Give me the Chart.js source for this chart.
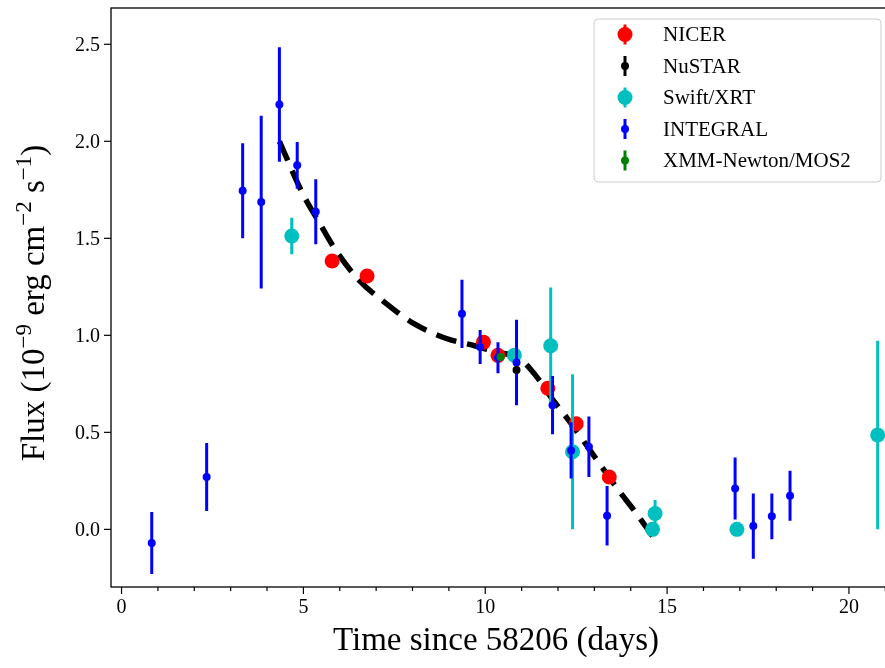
<!DOCTYPE html>
<html><head><meta charset="utf-8">
<script src="https://cdn.jsdelivr.net/npm/chart.js@4.4.0/dist/chart.umd.min.js"></script>
<style>html,body{margin:0;padding:0;overflow:hidden;background:#fff;width:885px;height:668px}#wrap{width:895px;height:668px}</style>
</head><body><div id="wrap"><canvas id="c" width="895" height="668"></canvas></div>
<script>
// ---- data ----
const nicerT = [5.79, 6.75, 9.95, 10.35, 11.72, 12.50, 13.41];
const nicerF = [1.383, 1.306, 0.965, 0.897, 0.727, 0.544, 0.270];
const nicerE = [0.015, 0.015, 0.015, 0.015, 0.015, 0.015, 0.015];

const nustarT = [10.86];
const nustarF = [0.822];
const nustarE = [0.02];

const swiftT = [4.68, 10.80, 11.80, 12.40, 14.67, 14.60, 16.92, 20.79];
const swiftF = [1.512, 0.898, 0.946, 0.400, 0.082, 0.000, 0.000, 0.486];
const swiftE = [0.094, 0.03, 0.30, 0.40, 0.07, 0.0, 0.0, 0.486];

const integralT = [0.83, 2.34, 3.33, 3.84, 4.34, 4.83, 5.34, 9.36, 9.86, 10.35, 10.86, 11.85, 12.36, 12.85, 13.35, 16.87, 17.37, 17.88, 18.38];
const integralF = [-0.07, 0.27, 1.745, 1.687, 2.19, 1.876, 1.637, 1.111, 0.94, 0.885, 0.86, 0.64, 0.407, 0.426, 0.07, 0.211, 0.017, 0.067, 0.173];
const integralE = [0.16, 0.175, 0.245, 0.445, 0.295, 0.12, 0.167, 0.176, 0.088, 0.08, 0.22, 0.15, 0.145, 0.156, 0.153, 0.16, 0.168, 0.118, 0.129];

const xmmT = [10.42];
const xmmF = [0.888];
const xmmE = [0.015];

const fitT = [4.34, 4.98, 5.44, 5.85, 6.50, 7.27, 8.04, 8.91, 9.73, 10.28, 10.95, 11.38, 11.83, 12.29, 12.75, 13.20, 13.66, 14.12, 14.62];
const fitF = [2.00, 1.73, 1.58, 1.45, 1.29, 1.165, 1.06, 0.985, 0.945, 0.915, 0.88, 0.795, 0.675, 0.563, 0.443, 0.323, 0.203, 0.091, -0.04];

const xTicks = [0, 5, 10, 15, 20];
const xMinorStep = 1;
const yTicks = [0.0, 0.5, 1.0, 1.5, 2.0, 2.5];
const xLabel = 'Time since 58206 (days)';
const yLabelParts = [['Flux (10', false], ['\u22129', true], [' erg cm', false], ['\u22122', true], [' s', false], ['\u22121', true], [')', false]];

// ---- chart ----
const FONT = "'Liberation Serif', 'Times New Roman', serif";
const pts = (T, F) => T.map((t, i) => ({x: t, y: F[i]}));

const series = [
  {label: 'NICER', T: nicerT, F: nicerF, E: nicerE, color: '#ff0000', r: 7.5, order: 5},
  {label: 'NuSTAR', T: nustarT, F: nustarF, E: nustarE, color: '#000000', r: 4, order: 2},
  {label: 'Swift/XRT', T: swiftT, F: swiftF, E: swiftE, color: '#00bfbf', r: 7.5, order: 4},
  {label: 'INTEGRAL', T: integralT, F: integralF, E: integralE, color: '#0000ff', r: 4, order: 3},
  {label: 'XMM-Newton/MOS2', T: xmmT, F: xmmF, E: xmmE, color: '#008000', r: 4, order: 1}
];

const datasets = [{
  type: 'line', label: 'fit', data: pts(fitT, fitF), borderColor: '#000', borderWidth: 5.5,
  borderDash: [21, 11], pointRadius: 0, fill: false, cubicInterpolationMode: 'monotone', order: 10
}].concat(series.map(s => ({
  type: 'scatter', label: s.label, data: pts(s.T, s.F), errs: s.E,
  backgroundColor: s.color, borderColor: s.color, borderWidth: 0, pointRadius: s.r,
  pointHoverRadius: s.r, order: s.order
})));

const errPlugin = {
  id: 'errbars',
  beforeDatasetDraw(chart, args) {
    const ds = chart.data.datasets[args.index];
    if (!ds.errs) return;
    const ctx = chart.ctx, xs = chart.scales.x, ys = chart.scales.y, a = chart.chartArea;
    ctx.save();
    ctx.beginPath(); ctx.rect(a.left, a.top, a.right - a.left, a.bottom - a.top); ctx.clip();
    ctx.strokeStyle = ds.borderColor; ctx.lineWidth = 3; ctx.lineCap = 'butt';
    ds.data.forEach((p, i) => {
      const e = ds.errs[i];
      if (!e) return;
      const px = xs.getPixelForValue(p.x);
      ctx.beginPath();
      ctx.moveTo(px, ys.getPixelForValue(p.y - e));
      ctx.lineTo(px, ys.getPixelForValue(p.y + e));
      ctx.stroke();
    });
    ctx.restore();
  }
};

const framePlugin = {
  id: 'frame',
  afterDraw(chart) {
    const ctx = chart.ctx, xs = chart.scales.x, ys = chart.scales.y, a = chart.chartArea;
    ctx.save();
    ctx.strokeStyle = '#000'; ctx.lineWidth = 1.3;
    ctx.strokeRect(a.left, a.top, a.right - a.left, a.bottom - a.top);
    // x ticks
    ctx.lineWidth = 1.2;
    for (let v = Math.ceil(xs.min); v <= xs.max; v += xMinorStep) {
      const px = xs.getPixelForValue(v);
      const major = xTicks.includes(v);
      ctx.beginPath(); ctx.moveTo(px, a.bottom); ctx.lineTo(px, a.bottom + (major ? 7 : 4)); ctx.stroke();
    }
    ctx.fillStyle = '#000';
    ctx.font = '20px ' + FONT; ctx.textAlign = 'center'; ctx.textBaseline = 'alphabetic';
    xTicks.forEach(v => ctx.fillText(String(v), xs.getPixelForValue(v), a.bottom + 26));
    // y ticks
    ctx.textAlign = 'right'; ctx.textBaseline = 'middle';
    yTicks.forEach(v => {
      const py = ys.getPixelForValue(v);
      ctx.beginPath(); ctx.moveTo(a.left, py); ctx.lineTo(a.left - 7, py); ctx.stroke();
      ctx.fillText(v.toFixed(1), a.left - 11, py + 1);
    });
    // x title
    ctx.font = '33px ' + FONT; ctx.textAlign = 'center'; ctx.textBaseline = 'alphabetic';
    ctx.fillText(xLabel, (a.left + 885) / 2 - 2, a.bottom + 63);
    // y title (rich, rotated)
    ctx.save();
    ctx.translate(44, 303); ctx.rotate(-Math.PI / 2);
    const big = '33px ' + FONT, small = '23px ' + FONT;
    let total = 0;
    yLabelParts.forEach(([t, sup]) => { ctx.font = sup ? small : big; total += ctx.measureText(t).width; });
    let cx = -total / 2;
    ctx.textAlign = 'left'; ctx.textBaseline = 'alphabetic';
    yLabelParts.forEach(([t, sup]) => {
      ctx.font = sup ? small : big;
      ctx.fillText(t, cx, sup ? -13 : 0);
      cx += ctx.measureText(t).width;
    });
    ctx.restore();
    // legend
    const lx = 594, ly = 19, lw = 287, lh = 163;
    ctx.beginPath();
    ctx.roundRect(lx, ly, lw, lh, 4);
    ctx.fillStyle = 'rgba(255,255,255,0.8)'; ctx.fill();
    ctx.strokeStyle = '#cccccc'; ctx.lineWidth = 1; ctx.stroke();
    ctx.font = '21px ' + FONT; ctx.textAlign = 'left'; ctx.textBaseline = 'middle';
    series.forEach((s, i) => {
      const cy = ly + 15.5 + i * 31.5, mx = lx + 31;
      ctx.strokeStyle = s.color; ctx.lineWidth = 3;
      ctx.beginPath(); ctx.moveTo(mx, cy - 10); ctx.lineTo(mx, cy + 10); ctx.stroke();
      ctx.fillStyle = s.color;
      ctx.beginPath(); ctx.arc(mx, cy, s.r, 0, Math.PI * 2); ctx.fill();
      ctx.fillStyle = '#000';
      ctx.fillText(s.label, lx + 69, cy + 1);
    });
    ctx.restore();
  }
};

new Chart(document.getElementById('c'), {
  data: {datasets},
  options: {
    responsive: false, animation: false, devicePixelRatio: 1,
    layout: {padding: {left: 111, top: 8, right: 5, bottom: 81}},
    plugins: {legend: {display: false}, tooltip: {enabled: false}},
    scales: {
      x: {type: 'linear', min: -0.29, max: 21.06, display: false},
      y: {type: 'linear', min: -0.297, max: 2.687, display: false}
    }
  },
  plugins: [errPlugin, framePlugin]
});
</script>
</body></html>
